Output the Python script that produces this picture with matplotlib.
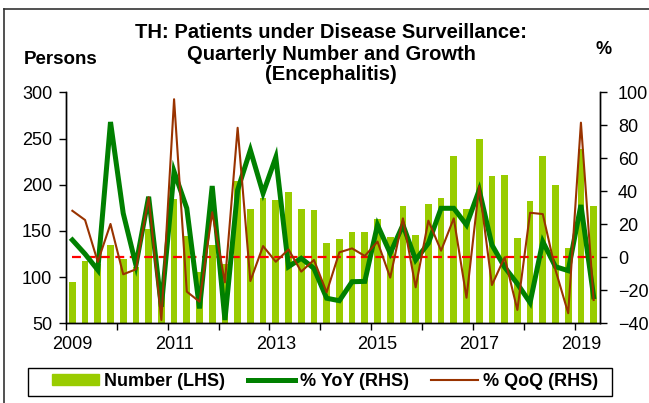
import numpy as np
import matplotlib
matplotlib.use('Agg')
import matplotlib.pyplot as plt
from matplotlib.lines import Line2D
from matplotlib.patches import Patch, Rectangle

plt.rcParams['font.family'] = ['Liberation Sans', 'DejaVu Sans']

# Quarterly data, 2009Q1 - 2019Q2
number = [95, 117, 114, 135, 120, 111, 152, 94, 184, 145, 106, 135,
          114, 204, 174, 186, 183, 192, 174, 173, 137, 141, 149, 149,
          163, 143, 177, 146, 179, 186, 231, 174, 250, 209, 210, 142,
          182, 231, 200, 131, 239, 177]
yoy = [10.5, 2, -7.7, 82, 26.7, -4.7, 36.7, -30, 52, 29.7, -31, 43.2,
       -38, 40.8, 65, 38.8, 60.6, -5.7, -0.6, -6.7, -24.8, -26.3, -14.8, -14.6,
       19.6, 2.4, 19.6, -1.6, 8.5, 29.7, 29.7, 19.6, 40.8, 7.5, -6, -16,
       -27.5, 9.5, -5.7, -8.1, 31.7, -23.9]
qoq = [28.2, 22.6, -2.7, 20.2, -10.3, -7.3, 36.4, -38, 95.8, -20.8, -26.9, 27.3,
       -15.2, 78.5, -14.4, 6.8, -2.7, 4.8, -8.7, -1.6, -21.2, 3, 5.4, 0.8,
       9.5, -12.3, 23.6, -18.2, 22.2, 4, 23.6, -24.5, 43.2, -16.8, 0, -31.9,
       27, 26.2, -7.7, -33.9, 81.6, -25.9]
years = list(range(2009, 2020))
title_lines = ['TH: Patients under Disease Surveillance:',
               'Quarterly Number and Growth',
               '(Encephalitis)']

x = np.arange(len(number)) + 0.5

fig = plt.figure(figsize=(6.49, 4.03), dpi=100)
ax = fig.add_axes([66 / 649, 1 - 323.3 / 403, 534 / 649, 231 / 403])
ax2 = ax.twinx()

ax.bar(x, number, width=0.53, color='#99CC00', zorder=2)
ax.set_ylim(50, 300)
ax.set_yticks(range(50, 301, 50))
ax.set_xlim(0, len(number))

ax2.plot(x, np.zeros_like(x), color='#FF0000', lw=1.6, ls=(0, (4, 2.5)))
ax2.plot(x, yoy, color='#008000', lw=3.6, solid_joinstyle='miter')
ax2.plot(x, qoq, color='#993300', lw=1.5)
ax2.set_ylim(-40, 100)
ax2.set_yticks(range(-40, 101, 20))

# year ticks at quarter boundaries, labels under the first quarter
ax.set_xticks(np.arange(0, len(number) + 1, 4))
ax.set_xticklabels([])
lab_pos = [(y - 2009) * 4 + 0.5 for y in years if y % 2 == 1]
ax.set_xticks(lab_pos, minor=True)
ax.set_xticklabels([str(y) for y in years if y % 2 == 1], minor=True)
ax.tick_params(axis='x', which='major', length=5, width=1, direction='out')
ax.tick_params(axis='x', which='minor', length=0, pad=9, labelsize=13)
ax.tick_params(axis='y', length=5, width=1, direction='out', pad=5, labelsize=13)
ax2.tick_params(axis='y', length=5, width=1, direction='out', pad=8, labelsize=13)

for a in (ax, ax2):
    a.spines['top'].set_visible(False)
    for s in ('left', 'right', 'bottom'):
        a.spines[s].set_color('black')
        a.spines[s].set_linewidth(1)

# title, one line at a time
for i, line in enumerate(title_lines):
    fig.text(331 / 649, 1 - (33 + 21 * i) / 403, line, ha='center', va='center',
             fontsize=14.5, fontweight='bold')
fig.text(60.5 / 649, 1 - 60 / 403, 'Persons', ha='center', va='center',
         fontsize=13.5, fontweight='bold')
fig.text(604 / 649, 1 - 50 / 403, '%', ha='center', va='center',
         fontsize=13, fontweight='bold')

# outer frame (left and top edge)
fig.add_artist(Line2D([3.5 / 649, 3.5 / 649], [0, 1 - 8.5 / 403], color='#333333', lw=1.2))
fig.add_artist(Line2D([3.5 / 649, 1], [1 - 8.5 / 403, 1 - 8.5 / 403], color='#333333', lw=1.2))

# legend box
fig.add_artist(Rectangle((28 / 649, 1 - 395.5 / 403), 584 / 649, 27.5 / 403,
                         transform=fig.transFigure, fill=False, edgecolor='black', lw=1))
handles = [Patch(color='#99CC00'),
           Line2D([], [], color='#008000', lw=3.6),
           Line2D([], [], color='#993300', lw=1.5)]
leg = fig.legend(handles, ['Number (LHS)', '% YoY (RHS)', '% QoQ (RHS)'],
                 loc='center left', bbox_to_anchor=(52 / 649, 1 - 381.5 / 403),
                 ncol=3, frameon=False,
                 prop={'weight': 'bold', 'size': 13}, handlelength=2.6,
                 handleheight=0.55, handletextpad=0.28, columnspacing=1.25,
                 borderpad=0, borderaxespad=0)

fig.savefig('out.png', dpi=100)
